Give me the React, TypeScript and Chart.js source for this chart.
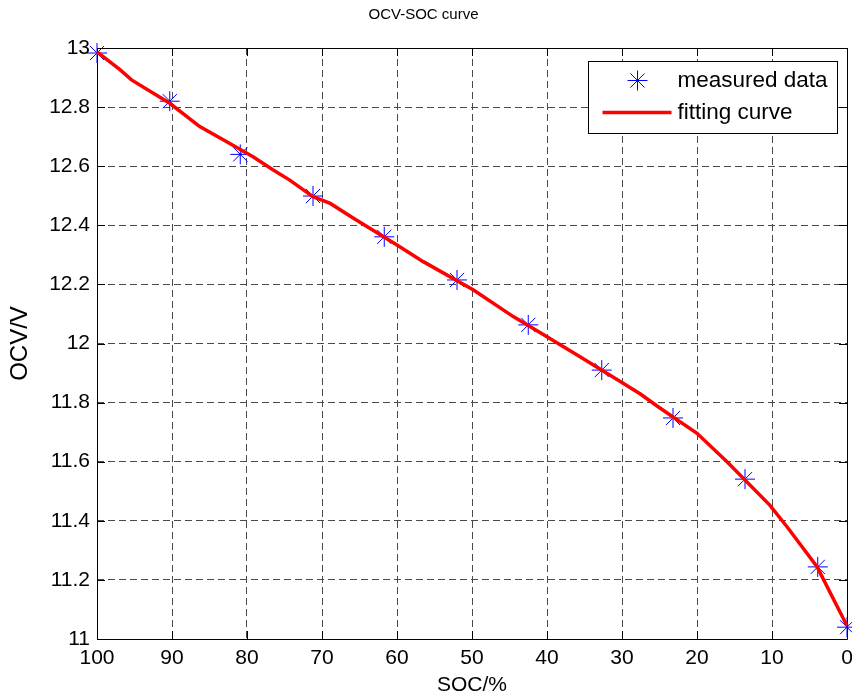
import React, { useEffect, useRef } from 'react';
import { Chart, registerables } from 'chart.js';

Chart.register(...registerables);

const titleText = 'OCV-SOC curve';
const xAxisTitle = 'SOC/%';
const yAxisTitle = 'OCV/V';
const measuredLabel = 'measured data';
const fitLabel = 'fitting curve';

const measuredSOC = [100, 90.3, 80.9, 71.2, 61.7, 52.0, 42.5, 32.7, 23.2, 13.6, 3.9, 0];
const measuredOCV = [12.983, 12.82, 12.64, 12.499, 12.361, 12.215, 12.063, 11.91, 11.748, 11.541, 11.244, 11.04];

const fitSOC = [100, 96.9, 95.4, 90.3, 86.3, 82.7, 79.2, 76.5, 74.3, 71.2, 68.9, 65.8, 60.0, 56.5, 49.8, 44.5, 40.0, 35.6, 30.5, 27.6, 24.9, 20.0, 16.0, 10.3, 8.0, 4.0, 0];
const fitOCV = [12.987, 12.926, 12.892, 12.813, 12.734, 12.683, 12.632, 12.587, 12.553, 12.497, 12.474, 12.424, 12.333, 12.277, 12.181, 12.091, 12.023, 11.955, 11.876, 11.83, 11.781, 11.696, 11.6, 11.453, 11.38, 11.245, 11.045];

const xTicks = [100, 90, 80, 70, 60, 50, 40, 30, 20, 10, 0];
const xTickLabels = ['100', '90', '80', '70', '60', '50', '40', '30', '20', '10', '0'];
const yTicks = [11, 11.2, 11.4, 11.6, 11.8, 12, 12.2, 12.4, 12.6, 12.8, 13];
const yTickLabels = ['11', '11.2', '11.4', '11.6', '11.8', '12', '12.2', '12.4', '12.6', '12.8', '13'];

const FONT = "'Liberation Sans', Arial, Helvetica, sans-serif";
const MEASURED_COLOR = '#0000ff';
const FIT_COLOR = '#ff0000';

function drawStar(ctx: CanvasRenderingContext2D, x: number, y: number, r: number, color: string) {
  const d = r * Math.cos(Math.PI / 4);
  ctx.save();
  ctx.strokeStyle = color;
  ctx.lineWidth = 1;
  ctx.beginPath();
  ctx.moveTo(x - r, y); ctx.lineTo(x + r, y);
  ctx.moveTo(x, y - r); ctx.lineTo(x, y + r);
  ctx.moveTo(x - d, y - d); ctx.lineTo(x + d, y + d);
  ctx.moveTo(x - d, y + d); ctx.lineTo(x + d, y - d);
  ctx.stroke();
  ctx.restore();
}

const framePlugin = {
  id: 'matlabFrame',
  beforeDatasetsDraw(chart: any) {
    const { ctx, chartArea: a, scales } = chart;
    const xs = scales.x;
    const ys = scales.y;
    const tl = 8;
    ctx.save();
    ctx.strokeStyle = '#000';
    ctx.lineWidth = 1;
    ctx.setLineDash([]);
    ctx.beginPath();
    ctx.rect(Math.round(a.left) + 0.5, Math.round(a.top) + 0.5, Math.round(a.right - a.left), Math.round(a.bottom - a.top));
    for (const v of xTicks) {
      const px = Math.round(xs.getPixelForValue(v)) + 0.5;
      ctx.moveTo(px, a.bottom); ctx.lineTo(px, a.bottom - tl);
      ctx.moveTo(px, a.top); ctx.lineTo(px, a.top + tl);
    }
    for (const v of yTicks) {
      const py = Math.round(ys.getPixelForValue(v)) + 0.5;
      ctx.moveTo(a.left, py); ctx.lineTo(a.left + tl, py);
      ctx.moveTo(a.right, py); ctx.lineTo(a.right - tl, py);
    }
    ctx.stroke();
    ctx.restore();
  },
};

const legendPlugin = {
  id: 'matlabLegend',
  afterDraw(chart: any) {
    const { ctx, chartArea: a } = chart;
    const ds = chart.data.datasets;
    const w = 249;
    const h = 72;
    const left = Math.round(a.right - 259) + 0.5;
    const top = Math.round(a.top + 13) + 0.5;
    ctx.save();
    ctx.fillStyle = '#fff';
    ctx.fillRect(left, top, w, h);
    ctx.strokeStyle = '#000';
    ctx.lineWidth = 1;
    ctx.strokeRect(left, top, w, h);
    const rowY = [top + 19, top + 51];
    drawStar(ctx, left + 49, rowY[0], 10, ds[0].borderColor);
    ctx.strokeStyle = ds[1].borderColor;
    ctx.lineWidth = ds[1].borderWidth;
    ctx.beginPath();
    ctx.moveTo(left + 14, rowY[1]);
    ctx.lineTo(left + 83, rowY[1]);
    ctx.stroke();
    ctx.fillStyle = '#000';
    ctx.font = `22.5px ${FONT}`;
    ctx.textBaseline = 'middle';
    ctx.textAlign = 'left';
    ctx.fillText(ds[0].label, left + 89, rowY[0]);
    ctx.fillText(ds[1].label, left + 89, rowY[1]);
    ctx.restore();
  },
};

const bgPlugin = {
  id: 'whiteBg',
  beforeDraw(chart: any) {
    const { ctx, width, height } = chart;
    ctx.save();
    ctx.fillStyle = '#fff';
    ctx.fillRect(0, 0, width, height);
    ctx.restore();
  },
};

export default function App() {
  const ref = useRef<HTMLCanvasElement>(null);

  useEffect(() => {
    if (!ref.current) return;
    const chart = new Chart(ref.current, {
      type: 'scatter',
      data: {
        datasets: [
          {
            label: measuredLabel,
            data: measuredSOC.map((x, i) => ({ x, y: measuredOCV[i] })),
            showLine: false,
            pointStyle: 'star',
            pointRadius: 10,
            pointHoverRadius: 10,
            borderColor: MEASURED_COLOR,
            backgroundColor: MEASURED_COLOR,
            borderWidth: 1,
            pointBorderWidth: 1,
            clip: false,
            order: 2,
          },
          {
            label: fitLabel,
            data: fitSOC.map((x, i) => ({ x, y: fitOCV[i] })),
            showLine: true,
            pointRadius: 0,
            pointHoverRadius: 0,
            borderColor: FIT_COLOR,
            backgroundColor: FIT_COLOR,
            borderWidth: 3.5,
            tension: 0,
            clip: false,
            order: 1,
          },
        ],
      },
      options: {
        animation: false,
        responsive: false,
        devicePixelRatio: 1,
        events: [],
        layout: { autoPadding: false, padding: { left: 0, right: 5, top: 0, bottom: 0 } },
        plugins: {
          legend: { display: false },
          tooltip: { enabled: false },
          title: {
            display: true,
            text: titleText,
            color: '#000',
            font: { family: FONT, size: 15, weight: 'normal' },
            padding: { top: 6, bottom: 24 },
          },
        },
        scales: {
          x: {
            type: 'linear',
            position: 'bottom',
            reverse: true,
            min: 0,
            max: 100,
            afterBuildTicks: (s: any) => { s.ticks = xTicks.map((v) => ({ value: v })); },
            afterFit: (s: any) => { s.height = 59; s.paddingLeft = 0; s.paddingRight = 0; },
            ticks: {
              color: '#000',
              font: { family: FONT, size: 21 },
              padding: 7,
              maxRotation: 0,
              autoSkip: false,
              callback: (_v: any, i: number) => xTickLabels[i],
            },
            grid: { color: '#4a4a4a', lineWidth: 1, drawTicks: false },
            border: { display: false, dash: [7, 4] },
            title: {
              display: true,
              text: xAxisTitle,
              color: '#000',
              font: { family: FONT, size: 21 },
              padding: { top: 0, bottom: 0 },
            },
          },
          y: {
            type: 'linear',
            position: 'left',
            min: 11,
            max: 13,
            afterBuildTicks: (s: any) => { s.ticks = yTicks.map((v) => ({ value: v })); },
            afterFit: (s: any) => { s.width = 97; s.paddingTop = 0; s.paddingBottom = 0; },
            ticks: {
              color: '#000',
              font: { family: FONT, size: 21 },
              padding: 7,
              autoSkip: false,
              callback: (_v: any, i: number) => yTickLabels[i],
            },
            grid: { color: '#4a4a4a', lineWidth: 1, drawTicks: false },
            border: { display: false, dash: [7, 4] },
            title: {
              display: true,
              text: yAxisTitle,
              color: '#000',
              font: { family: FONT, size: 24 },
              padding: { top: 6, bottom: 0 },
            },
          },
        },
      },
      plugins: [bgPlugin, framePlugin, legendPlugin],
    });
    return () => chart.destroy();
  }, []);

  return (
    <div style={{ position: 'fixed', left: 0, top: 0, width: 852, height: 698 }}>
      <canvas ref={ref} width={852} height={698} style={{ display: 'block' }} />
    </div>
  );
}
